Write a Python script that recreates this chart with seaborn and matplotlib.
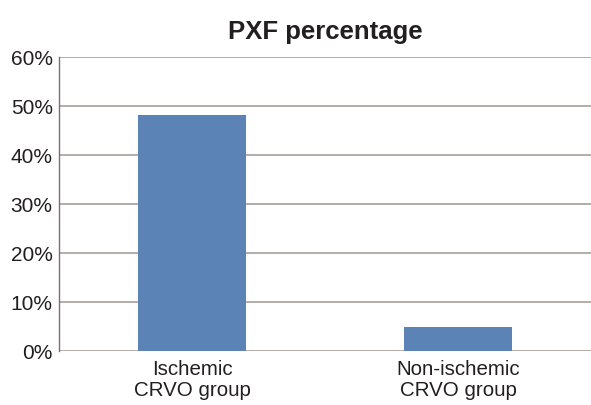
import pandas as pd
import matplotlib
matplotlib.use("Agg")
import matplotlib.pyplot as plt
import seaborn as sns
from matplotlib.ticker import PercentFormatter

# values
groups = ["Ischemic\nCRVO group", "Non-ischemic\nCRVO group"]
pxf_pct = [48.2, 4.8]
yticks = [0, 10, 20, 30, 40, 50, 60]

data = pd.DataFrame({"group": groups, "pct": pxf_pct})

sns.set_style("white")
plt.rcParams["font.family"] = ["Liberation Sans", "DejaVu Sans"]

fig = plt.figure(figsize=(5.91, 4.05), dpi=100)
ax = fig.add_axes([0.0998, 0.1333, 0.9002, 0.7259])

sns.barplot(data=data, x="group", y="pct", color="#5b83b6", saturation=1,
            width=0.405, linewidth=0, ax=ax, zorder=3)

ax.set_ylim(0, 60)
ax.set_xlim(-0.5, 1.5)
ax.set_yticks(yticks)
ax.yaxis.set_major_formatter(PercentFormatter(decimals=0))
ax.grid(axis="y", color="#b0a6a2", linewidth=1.3, zorder=0)
ax.set_axisbelow(True)

for s in ["top", "right", "bottom"]:
    ax.spines[s].set_visible(False)
ax.spines["left"].set_color("#7a7070")
ax.spines["left"].set_linewidth(1.0)

ax.tick_params(axis="y", labelsize=15, colors="#231f20", left=False, pad=1)
ax.tick_params(axis="x", labelsize=14.8, colors="#231f20", bottom=False, pad=3)
for lab in ax.get_xticklabels():
    lab.set_linespacing(1.15)
ax.set_xlabel("")
ax.set_ylabel("")
ax.set_title("PXF percentage", fontsize=18.5, fontweight="bold", pad=13,
             color="#231f20")

plt.savefig("out.png", dpi=100)
